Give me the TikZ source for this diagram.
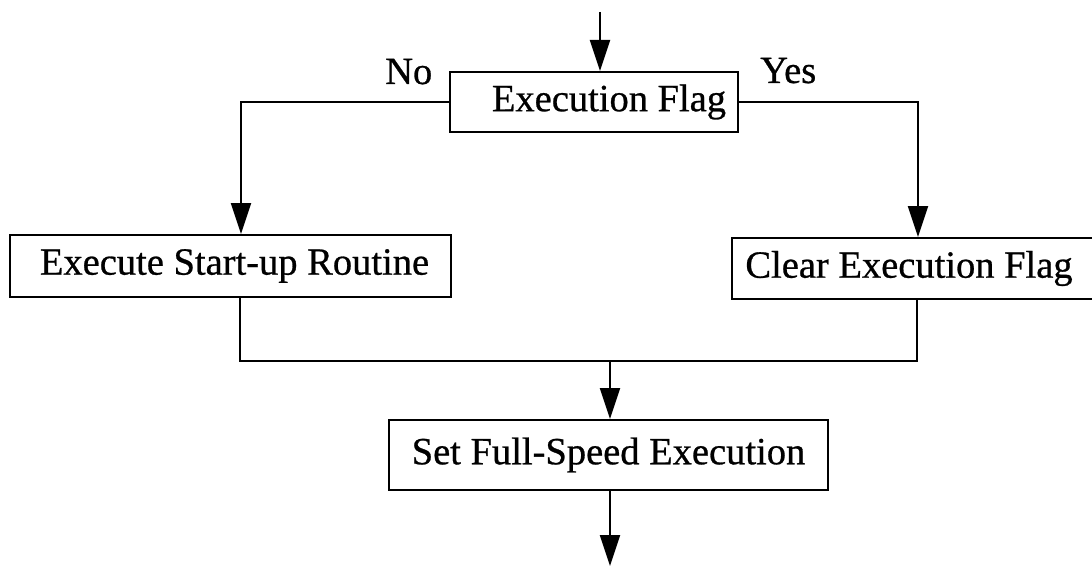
\documentclass[tikz,border=0pt]{standalone}
\usepackage{fontspec}
\setmainfont{Liberation Serif}[FakeBold=0.7]
\usetikzlibrary{arrows.meta}
\begin{document}
\begin{tikzpicture}[x=1pt,y=-1pt,
  box/.style={draw, rectangle, line width=2pt, inner sep=0pt,
    font=\fontsize{38.5}{46}\selectfont},
  link/.style={line width=2pt},
  flow/.style={link, -{Triangle[length=31pt,width=20pt]}},
  tag/.style={inner sep=0pt, anchor=base west,
    font=\fontsize{38.5}{46}\selectfont}]
\clip (0,0) rectangle (1092,567);
\fill[white] (0,0) rectangle (1092,567);

% process boxes
\node[box, minimum width=288pt, minimum height=60pt] (flag) at (594,102) {\hspace*{30pt}Execution Flag};
\node[box, minimum width=441pt, minimum height=62pt] (startup) at (230.5,266) {\hspace*{8pt}Execute Start-up Routine};
\node[box, minimum width=370pt, minimum height=61pt] (clear) at (917,268.5) {Clear Execution Flag\hspace*{16pt}};
\node[box, minimum width=439pt, minimum height=70pt] (set) at (608.5,455) {Set Full-Speed Execution};

% branch labels
\node[tag] (no) at (385,84) {No};
\node[tag] (yes) at (760,83) {Yes};

% free ends and junction
\coordinate (in) at (600,12);
\coordinate (join) at (610,361);
\coordinate (out) at (610,566);

% connectors
\draw[flow] (in) -- (in |- flag.north);
\draw[flow] (flag.west) -| ([xshift=10.5pt]startup.north);
\draw[flow] (flag.east) -| ([xshift=1pt]clear.north);
\draw[link] ([xshift=9.5pt]startup.south) |- (join) -| (clear.south);
\draw[flow] (join) -- (join |- set.north);
\draw[flow] (set.south -| out) -- (out);
\end{tikzpicture}
\end{document}
